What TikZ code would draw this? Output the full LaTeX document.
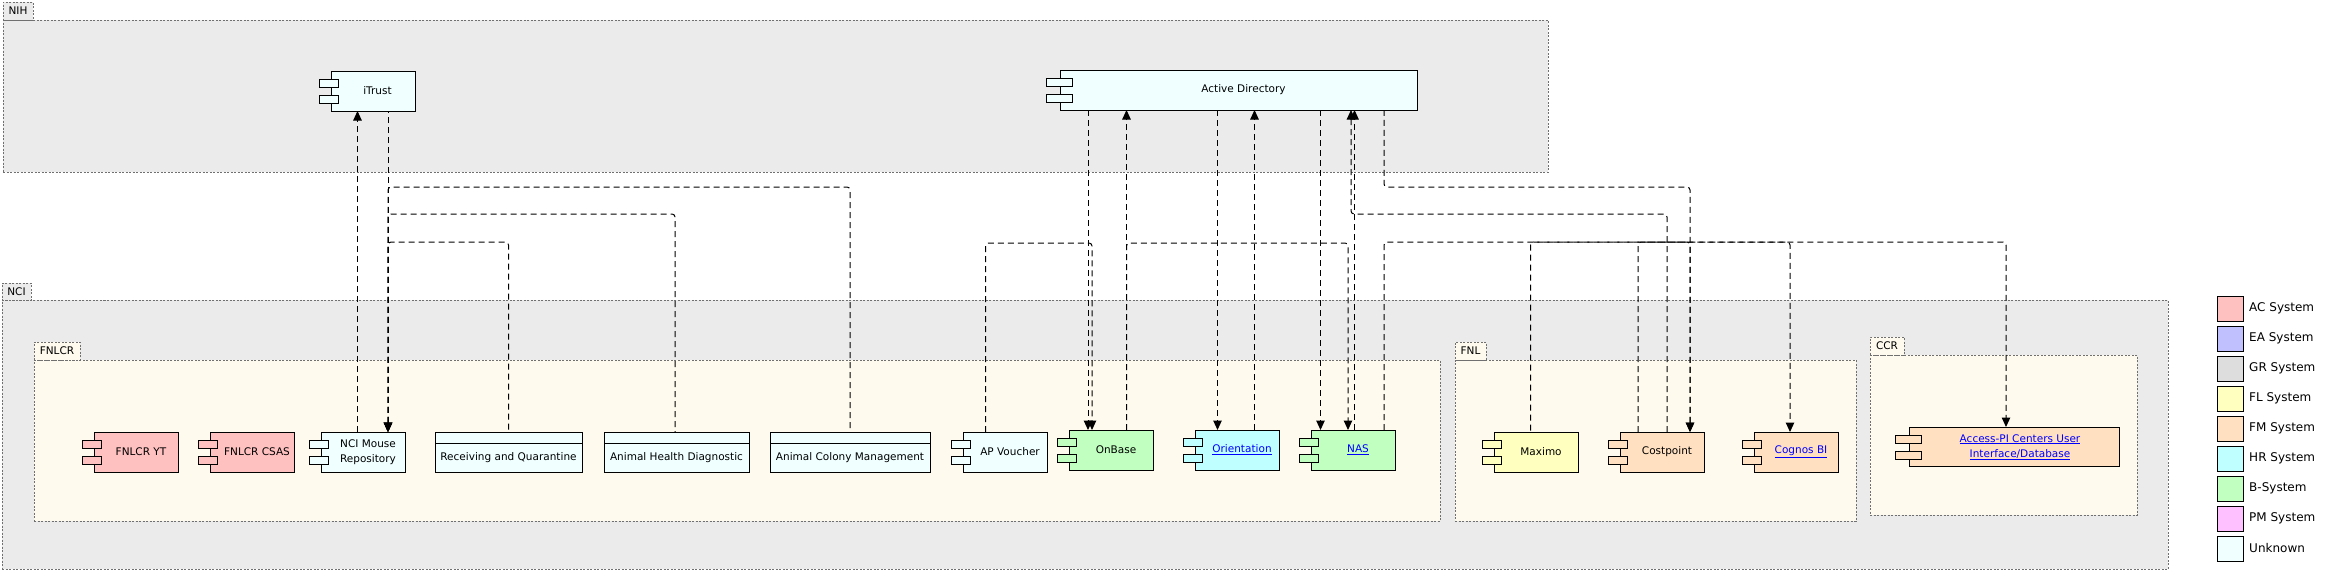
\documentclass[tikz,border=0pt]{standalone}
\usepackage{fontspec}
\setmainfont{DejaVu Sans}
\usetikzlibrary{arrows.meta}
\definecolor{pkgray}{HTML}{EBEBEB}
\definecolor{pkivory}{HTML}{FEFAEE}
\definecolor{pkborder}{HTML}{707070}
\definecolor{colAC}{HTML}{FFC0C0}
\definecolor{colEA}{HTML}{C0C0FF}
\definecolor{colGR}{HTML}{DDDDDD}
\definecolor{colFL}{HTML}{FFFFC0}
\definecolor{colFM}{HTML}{FFE0C0}
\definecolor{colHR}{HTML}{C0FFFF}
\definecolor{colB}{HTML}{C0FFC0}
\definecolor{colPM}{HTML}{FFC0FF}
\definecolor{colUNK}{HTML}{F0FFFF}
\definecolor{linkblue}{HTML}{0000FF}
\newcommand\cfont{\fontsize{10.5}{15}\selectfont}
\newcommand\pfont{\fontsize{10.5}{12}\selectfont}
\newcommand\lgfont{\fontsize{12}{14}\selectfont}
\newcommand\linktext[1]{\textcolor{linkblue}{\underline{#1}}}
\begin{document}
\begin{tikzpicture}[x=1pt,y=-1pt,
  pkg/.style={draw=pkborder, dash pattern=on 2pt off 1.5pt, line width=0.8pt,
    rectangle, inner sep=0pt, outer sep=0pt, anchor=north west},
  pkgtab/.style={pkg, anchor=south west, font=\pfont, minimum height=18pt},
  comp/.style={draw=black, line width=1pt, rectangle, anchor=north west,
    minimum height=40pt, minimum width=84pt, inner sep=0pt, outer sep=0pt, font=\cfont},
  cls/.style={comp, fill=colUNK,
    path picture={\draw[line width=1pt] ([yshift=-11pt]path picture bounding box.north west)
      -- ([yshift=-11pt]path picture bounding box.north east);}},
  bump/.style={draw=black, line width=1pt},
  dep/.style={draw=black, line width=1pt, dash pattern=on 6pt off 4pt,
    rounded corners=3pt, -{Triangle[length=9.5pt,width=8.5pt]}},
  deprev/.style={dep, {Triangle[length=9.5pt,width=8.5pt]}-},
  legbox/.style={draw=black, line width=0.8pt, anchor=north west,
    minimum width=26pt, minimum height=25pt, inner sep=0pt},
  legtext/.style={anchor=west, font=\lgfont, inner sep=0pt}
]
\useasboundingbox (0,0) rectangle (2329,573);
\fill[white] (0,0) rectangle (2329,573);

% ---------- packages ----------
\node[pkg, fill=pkgray, minimum width=2166pt, minimum height=269pt] (nci) at (2,300) {};
\node[pkgtab, fill=pkgray, minimum width=29pt, minimum height=17pt] (ncitab) at (2,300) {NCI};

\node[pkg, fill=pkivory, minimum width=1406pt, minimum height=161pt] (fnlcr) at (34,360) {};
\node[pkgtab, fill=pkivory, minimum width=46pt] (fnlcrtab) at (34,360) {FNLCR};

\node[pkg, fill=pkivory, minimum width=401pt, minimum height=161pt] (fnl) at (1455,360) {};
\node[pkgtab, fill=pkivory, minimum width=31pt] (fnltab) at (1455,360) {FNL};

\node[pkg, fill=pkivory, minimum width=267pt, minimum height=160pt] (ccr) at (1870,355) {};
\node[pkgtab, fill=pkivory, minimum width=34pt] (ccrtab) at (1870,355) {CCR};

\node[pkg, fill=pkgray, minimum width=1545pt, minimum height=152pt] (nih) at (3,20) {};
\node[pkgtab, fill=pkgray, minimum width=30pt] (nihtab) at (3,20) {NIH};

% ---------- components ----------
\node[comp, fill=colUNK] (itrust) at (331,71) {\hspace*{9pt}iTrust};
\node[comp, fill=colUNK, minimum width=357pt] (ad) at (1060,70) {\hspace*{10pt}Active Directory};

\node[comp, fill=colAC] (fnlcryt) at (94,432) {\hspace*{10pt}FNLCR YT};
\node[comp, fill=colAC] (csas) at (210,432) {\hspace*{10pt}FNLCR CSAS};
\node[comp, fill=colUNK] (mouse) at (321,432)
  {\hspace*{10pt}\begin{tabular}{@{}c@{}}NCI Mouse\\Repository\end{tabular}};
\node[cls, minimum width=147pt] (receiving) at (435,432)
  {\raisebox{-5.5pt}[7.5pt][2.2pt]{Receiving and Quarantine}};
\node[cls, minimum width=145pt] (health) at (604,432)
  {\raisebox{-5.5pt}[7.5pt][2.2pt]{Animal Health Diagnostic}};
\node[cls, minimum width=160pt] (colony) at (770,432)
  {\raisebox{-5.5pt}[7.5pt][2.2pt]{Animal Colony Management}};
\node[comp, fill=colUNK] (apv) at (963,432) {\hspace*{10pt}AP Voucher};
\node[comp, fill=colB] (onbase) at (1069,430) {\hspace*{10pt}OnBase};
\node[comp, fill=colHR] (orient) at (1195,430) {\hspace*{10pt}\linktext{Orientation}};
\node[comp, fill=colB] (nas) at (1311,430) {\hspace*{10pt}\linktext{NAS}};

\node[comp, fill=colFL] (maximo) at (1494,432) {\hspace*{10pt}Maximo};
\node[comp, fill=colFM] (costpoint) at (1620,432) {\hspace*{10pt}Costpoint};
\node[comp, fill=colFM] (cognos) at (1754,432) {\hspace*{10pt}\linktext{Cognos BI}};

\node[comp, fill=colFM, minimum width=210pt, minimum height=39pt] (access) at (1909,427)
  {\hspace*{12pt}\begin{tabular}{@{}c@{}}\linktext{Access-PI Centers User}\\\linktext{Interface/Database}\end{tabular}};

% component bumps
\foreach \n/\c/\a/\b in {itrust/colUNK/-12/7.5, ad/colUNK/-14/12, fnlcryt/colAC/-12/7.5,
    csas/colAC/-12/7.5, mouse/colUNK/-12/7.5, apv/colUNK/-12/7.5, onbase/colB/-12/7.5,
    orient/colHR/-12/7.5, nas/colB/-12/7.5, maximo/colFL/-12/7.5, costpoint/colFM/-12/7.5,
    cognos/colFM/-12/7.5, access/colFM/-14/12} {
  \draw[bump, fill=\c] ([xshift=\a pt, yshift=-8pt]\n.north west) rectangle ([xshift=\b pt, yshift=-16pt]\n.north west);
  \draw[bump, fill=\c] ([xshift=\a pt, yshift=-24pt]\n.north west) rectangle ([xshift=\b pt, yshift=-32pt]\n.north west);
}

% ---------- connectors ----------
% iTrust <-> NCI Mouse Repository (merging edges drawn from their common target)
\draw[dep] ([xshift=36.5pt]mouse.north west) -- ([xshift=26.5pt]itrust.south west);
\draw[deprev] ([xshift=67pt]mouse.north west) -- ([xshift=57pt]itrust.south west);
\draw[deprev] ([xshift=67pt]mouse.north west) -- ++(0,-190) -| ([xshift=73.5pt]receiving.north west);
\draw[deprev] ([xshift=67pt]mouse.north west) -- ++(0,-218) -| ([xshift=71pt]health.north west);
\draw[deprev] ([xshift=67pt]mouse.north west) -- ++(0,-245) -| ([xshift=80pt]colony.north west);

% OnBase
\draw[dep] ([xshift=22.5pt]apv.north west) -- ++(0,-189) -| ([xshift=23pt]onbase.north west);
\draw[dep] ([xshift=28pt]ad.south west) -- ([xshift=19pt]onbase.north west);
\draw[dep] ([xshift=57.5pt]onbase.north west) -- ([xshift=66.5pt]ad.south west);
\draw[dep] ([xshift=57.5pt]onbase.north west) -- ++(0,-187) -| ([xshift=37pt]nas.north west);

% Orientation
\draw[dep] ([xshift=157.5pt]ad.south west) -- ([xshift=22.5pt]orient.north west);
\draw[dep] ([xshift=59.5pt]orient.north west) -- ([xshift=194.5pt]ad.south west);

% NAS
\draw[dep] ([xshift=260.5pt]ad.south west) -- ([xshift=9.5pt]nas.north west);
\draw[dep] ([xshift=43.5pt]nas.north west) -- ([xshift=294.5pt]ad.south west);

% Costpoint / AD
\draw[dep] ([xshift=47pt]costpoint.north west) -- ++(0,-218) -| ([xshift=291pt]ad.south west);
\draw[deprev] ([xshift=70pt]costpoint.north west) -- ++(0,-245) -| ([xshift=324pt]ad.south west);

% level 242 towards FNL / CCR
\draw[dep] ([xshift=73pt]nas.north west) -- ++(0,-188) -| ([xshift=97pt]access.north west);
\draw[deprev] ([xshift=70pt]costpoint.north west) -- ++(0,-190) -| ([xshift=36.5pt]maximo.north west);
\draw[dep] ([xshift=18pt]costpoint.north west) -- ++(0,-190) -| ([xshift=36pt]cognos.north west);

% ---------- legend ----------
\foreach \i/\c/\t in {0/colAC/AC System, 1/colEA/EA System, 2/colGR/GR System,
    3/colFL/FL System, 4/colFM/FM System, 5/colHR/HR System, 6/colB/B-System,
    7/colPM/PM System, 8/colUNK/Unknown} {
  \node[legbox, fill=\c] (legbox\i) at (2217,{296+30*\i}) {};
  \node[legtext] (legtext\i) at (2249,{308.5+30*\i}) {\t};
}
\end{tikzpicture}
\end{document}
